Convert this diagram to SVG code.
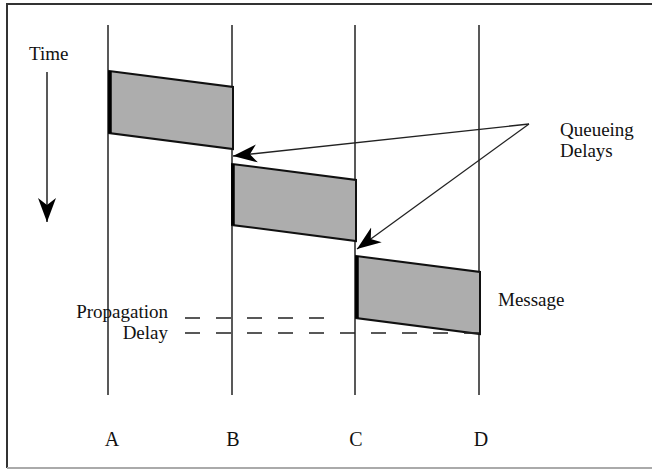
<svg xmlns="http://www.w3.org/2000/svg" width="652" height="470" viewBox="0 0 652 470">
<style>
.serif{font-family:"Liberation Serif","Times New Roman",serif;font-size:19px;fill:#111}
.mono{font-family:"Liberation Serif","Times New Roman",serif;font-size:20px;fill:#111;text-anchor:middle}
.life{stroke:#222;stroke-width:1.5;fill:none}
.msg{fill:#adadad;stroke:#111;stroke-width:2;stroke-linejoin:miter}
.edge{stroke:#000;stroke-width:3.5}
.dash{stroke:#222;stroke-width:1.5;stroke-dasharray:15 16;fill:none}
.arr{stroke:#222;stroke-width:1.3;fill:none}
</style>
<defs>
<marker id="barb" markerUnits="userSpaceOnUse" markerWidth="30" markerHeight="24" refX="24" refY="10" orient="auto" viewBox="0 0 30 20">
<path d="M24,10 L0,1 L7,10 L0,19 Z" fill="#000"/>
</marker>
</defs>
<rect x="0" y="0" width="652" height="470" fill="#fff"/>
<g id="frame">
<path d="M652,4 H7 V468" fill="none" stroke="#333" stroke-width="2"/>
<path d="M7,468 H652" fill="none" stroke="#aaa" stroke-width="2"/>
</g>
<g id="lifelines">
<line class="life" x1="108" y1="25" x2="108" y2="395"/>
<line class="life" x1="232" y1="25" x2="232" y2="395"/>
<line class="life" x1="355" y1="25" x2="355" y2="395"/>
<line class="life" x1="479" y1="25" x2="479" y2="395"/>
</g>
<g id="time">
<text class="serif" x="29" y="60">Time</text>
<line x1="47" y1="72" x2="47" y2="222" stroke="#222" stroke-width="1.5" marker-end="url(#barb)"/>
</g>
<g id="msg1">
<polygon class="msg" points="109,71 233,87 233,149 109,133"/>
<line class="edge" x1="110" y1="71" x2="110" y2="133"/>
</g>
<g id="msg2">
<polygon class="msg" points="232,164 356,180 356,241 232,225"/>
<line class="edge" x1="233" y1="164" x2="233" y2="225"/>
</g>
<g id="msg3">
<polygon class="msg" points="356,256 480,272 480,334 356,318"/>
<line class="edge" x1="357" y1="256" x2="357" y2="318"/>
</g>
<g id="connectors">
<line class="arr" x1="529" y1="124" x2="233" y2="156" marker-end="url(#barb)"/>
<line class="arr" x1="529" y1="124" x2="357" y2="249" marker-end="url(#barb)"/>
<line class="dash" x1="185" y1="318" x2="340" y2="318"/>
<line class="dash" x1="185" y1="333" x2="480" y2="333"/>
</g>
<g id="labels">
<text class="serif" x="560" y="136">Queueing</text>
<text class="serif" x="560" y="157">Delays</text>
<text class="serif" x="168" y="318" text-anchor="end">Propagation</text>
<text class="serif" x="168" y="339" text-anchor="end">Delay</text>
<text class="serif" x="498" y="306">Message</text>
<text class="mono" x="112" y="446">A</text>
<text class="mono" x="233" y="446">B</text>
<text class="mono" x="356" y="446">C</text>
<text class="mono" x="481" y="446">D</text>
</g>
</svg>
